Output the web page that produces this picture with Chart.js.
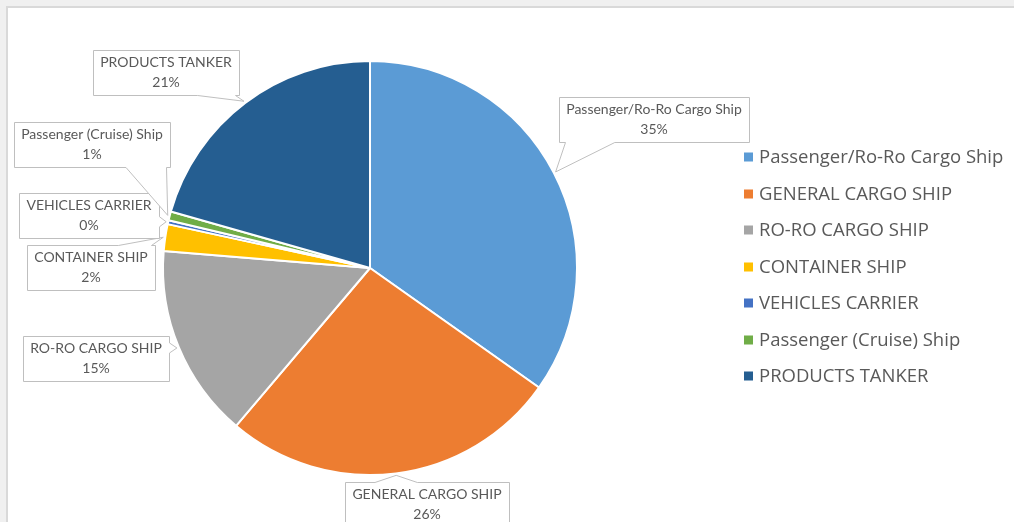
<!DOCTYPE html>
<html>
<head>
<meta charset="utf-8">
<script src="https://cdn.jsdelivr.net/npm/chart.js@4.4.0/dist/chart.umd.min.js"></script>
<style>
  html, body { margin: 0; padding: 0; width: 1014px; height: 522px; overflow: hidden; background: #f0f0f0; }
  #frame { position: absolute; left: 6px; top: 6px; width: 1006px; height: 514px;
           border-left: 2px solid #d9d9d9; border-top: 2px solid #d9d9d9; background: #fff; }
  #wrap { position: relative; width: 1006px; height: 514px; }
</style>
</head>
<body>
<div id="frame"><div id="wrap"><canvas id="chart"></canvas></div></div>
<script>
// ship types and their share of the fleet (%)
const categories = [
  'Passenger/Ro-Ro Cargo Ship',
  'GENERAL CARGO SHIP',
  'RO-RO CARGO SHIP',
  'CONTAINER SHIP',
  'VEHICLES CARRIER',
  'Passenger (Cruise) Ship',
  'PRODUCTS TANKER'
];
const shares = [34.8, 26.4, 15.1, 2.1, 0.3, 0.7, 20.6];

const sliceColors = ['#5B9BD5', '#ED7D31', '#A5A5A5', '#FFC000', '#4472C4', '#70AD47', '#255E91'];
const textColor = '#595959';

// Excel style call-out labels: box with a wedge pointing at the slice
const calloutPlugin = {
  id: 'callouts',
  afterDatasetsDraw(chart, args, opts) {
    const ctx = chart.ctx;
    const meta = chart.getDatasetMeta(0);
    const values = chart.data.datasets[0].data;
    const total = values.reduce((a, b) => a + b, 0);
    ctx.save();
    ctx.font = opts.font;
    meta.data.forEach((arc, i) => {
      const p = arc.getProps(['x', 'y', 'startAngle', 'endAngle', 'outerRadius'], true);
      const mid = (p.startAngle + p.endAngle) / 2;
      const tip = {
        x: p.x + Math.cos(mid) * (p.outerRadius + 2),
        y: p.y + Math.sin(mid) * (p.outerRadius + 2)
      };
      const lines = [chart.data.labels[i], Math.round(values[i] / total * 100) + '%'];
      const w = Math.max(...lines.map(l => ctx.measureText(l).width)) + opts.padX * 2;
      const h = opts.boxHeight;
      const c = opts.centers[i];
      const l = Math.round(c[0] - w / 2) + 0.5, r = Math.round(c[0] + w / 2) + 0.5;
      const t = Math.round(c[1] - h / 2) + 0.5, b = Math.round(c[1] + h / 2) + 0.5;
      const clamp = (v, lo, hi) => Math.max(lo, Math.min(hi, v));
      const hHalf = Math.min(25, w * 0.13);

      ctx.beginPath();
      if (tip.y > b) {
        const cx = clamp(tip.x, l + hHalf + 6, r - hHalf - 4);
        ctx.moveTo(l, t); ctx.lineTo(r, t); ctx.lineTo(r, b);
        ctx.lineTo(cx + hHalf, b); ctx.lineTo(tip.x, tip.y); ctx.lineTo(cx - hHalf, b);
        ctx.lineTo(l, b);
      } else if (tip.y < t) {
        const cx = clamp(tip.x, l + hHalf + 6, r - hHalf - 4);
        ctx.moveTo(l, t); ctx.lineTo(cx - hHalf, t); ctx.lineTo(tip.x, tip.y); ctx.lineTo(cx + hHalf, t);
        ctx.lineTo(r, t); ctx.lineTo(r, b); ctx.lineTo(l, b);
      } else if (tip.x > r) {
        const half = 5, cy = clamp(tip.y, t + half + 3, b - half - 3);
        ctx.moveTo(l, t); ctx.lineTo(r, t); ctx.lineTo(r, cy - half); ctx.lineTo(tip.x, tip.y);
        ctx.lineTo(r, cy + half); ctx.lineTo(r, b); ctx.lineTo(l, b);
      } else {
        const half = 5, cy = clamp(tip.y, t + half + 3, b - half - 3);
        ctx.moveTo(l, t); ctx.lineTo(r, t); ctx.lineTo(r, b); ctx.lineTo(l, b);
        ctx.lineTo(l, cy + half); ctx.lineTo(tip.x, tip.y); ctx.lineTo(l, cy - half);
      }
      ctx.closePath();
      ctx.fillStyle = '#fff';
      ctx.fill();
      ctx.strokeStyle = opts.borderColor;
      ctx.lineWidth = 1;
      ctx.stroke();

      ctx.fillStyle = textColor;
      ctx.textAlign = 'center';
      ctx.textBaseline = 'middle';
      ctx.fillText(lines[0], c[0], c[1] - 10);
      ctx.fillText(lines[1], c[0], c[1] + 10);
    });
    ctx.restore();
  }
};

// legend drawn to the right of the chart area, from the library's own legend items
const sideLegend = {
  id: 'sideLegend',
  afterDraw(chart, args, opts) {
    const ctx = chart.ctx;
    const items = Chart.overrides.pie.plugins.legend.labels.generateLabels(chart);
    const area = chart.chartArea;
    const x = area.right + opts.gap;
    const cy = (area.top + area.bottom) / 2 + opts.shiftY;
    const y0 = cy - (items.length - 1) / 2 * opts.rowHeight;
    ctx.save();
    ctx.font = opts.font;
    ctx.textBaseline = 'middle';
    ctx.textAlign = 'left';
    items.forEach((it, i) => {
      const y = Math.round(y0 + i * opts.rowHeight);
      ctx.fillStyle = it.fillStyle;
      ctx.fillRect(x, y - opts.box / 2, opts.box, opts.box);
      ctx.fillStyle = textColor;
      ctx.fillText(it.text, x + opts.box + 6, y + 1);
    });
    ctx.restore();
  }
};

new Chart(document.getElementById('chart'), {
  type: 'pie',
  data: {
    labels: categories,
    datasets: [{
      data: shares,
      backgroundColor: sliceColors,
      borderColor: '#ffffff',
      borderWidth: 2
    }]
  },
  plugins: [calloutPlugin, sideLegend],
  options: {
    responsive: true,
    maintainAspectRatio: false,
    animation: false,
    layout: { padding: { top: 52, bottom: 46, left: 0, right: 282 } },
    plugins: {
      tooltip: { enabled: false },
      legend: { display: false },
      sideLegend: {
        font: '18.5px "Open Sans"',
        gap: 12,
        box: 9,
        rowHeight: 36.5,
        shiftY: -1.5
      },
      callouts: {
        font: '14px Lato',
        padX: 7,
        boxHeight: 45,
        borderColor: '#bfbfbf',
        centers: [[646, 111], [419, 496], [88, 350], [83, 259], [81, 207], [84, 136], [158, 64]]
      }
    }
  }
});
</script>
</body>
</html>
